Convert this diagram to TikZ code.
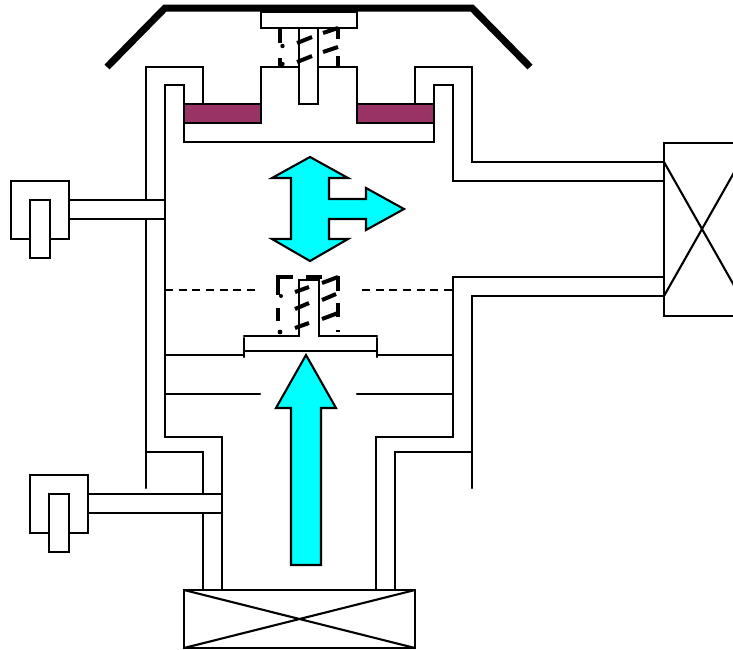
\documentclass[tikz,border=0pt]{standalone}
\definecolor{plum}{RGB}{153,51,102}
\definecolor{flowcyan}{RGB}{0,255,255}
\tikzset{
  wall/.style={line width=1.05pt,black,line cap=round,line join=miter},
  heavy/.style={line width=3.5pt,black,line cap=butt,line join=miter},
  coil/.style={line width=2pt,black},
  flow/.style={line width=1.05pt,black,fill=flowcyan,line join=miter},
  seal/.style={line width=1.05pt,black,fill=plum},
  box/.style={line width=1.05pt,black,fill=white},
  levelline/.style={line width=1pt,black,dash pattern=on 4pt off 2.83pt}
}
\begin{document}
\begin{tikzpicture}[x=0.5pt,y=-0.5pt]
\useasboundingbox (0,0) rectangle (733,649);
\begin{scope}
\clip (0,0) rectangle (733,649);
% top
\draw[heavy] (107,67) -- (165,8) -- (472,8) -- (530,67);
\draw[box] (261,12) rectangle (357,28);
% chamber
\draw[wall] (146,488) -- (146,219);
\draw[wall] (146,200) -- (146,67) -- (203,67) -- (203,104);
\draw[wall] (165,437) -- (165,85) -- (184,85) -- (184,142) -- (434,142) -- (434,85) -- (453,85) -- (453,181) -- (664,181);
\draw[wall] (415,104) -- (415,67) -- (472,67) -- (472,162) -- (664,162);
\draw[wall] (261,123) -- (261,67) -- (357,67) -- (357,123);
\draw[seal] (184,104) rectangle (261,123);
\draw[seal] (357,104) rectangle (434,123);
\draw[box] (299,28) rectangle (318,104);
% top spring
\draw[coil] (280,28) -- (280,43) (280,58) -- (280,66);
\draw[coil] (338,28) -- (338,39) (338,56) -- (338,66);
\fill (282.5,46) circle (1.1pt) (282.5,64) circle (1.1pt);
\draw[coil] (323,33) -- (338,28) (323,52) -- (338,47);
\draw[coil] (297,43) -- (312,37) (297,62) -- (312,56);
% lower walls
\draw[wall] (165,437) -- (222,437) -- (222,590);
\draw[wall] (146,452) -- (203,452) -- (203,494);
\draw[wall] (203,513) -- (203,590);
\draw[wall] (664,277) -- (453,277) -- (453,437) -- (376,437) -- (376,590);
\draw[wall] (664,296) -- (472,296) -- (472,488);
\draw[wall] (472,452) -- (395,452) -- (395,590);
% upper gauge
\draw[wall] (69,200) -- (165,200) (69,219) -- (165,219);
\draw[box] (11,181) rectangle (69,239);
\draw[box] (30,200) rectangle (50,258);
% lower gauge
\draw[wall] (88,494) -- (222,494) (88,513) -- (222,513);
\draw[box] (30,475) rectangle (88,533);
\draw[box] (49,494) rectangle (69,552);
% pumps
\draw[box] (184,590) rectangle (415,648);
\draw[wall] (184,590) -- (415,648) (184,648) -- (415,590);
\draw[box] (664,143) rectangle (760,316);
\draw[wall] (664,162) -- (740,296) (664,296) -- (740,162);
% dashed level
\draw[levelline] (165,290) -- (255,290);
\draw[levelline] (362,290) -- (453,290);
% lower valve
\draw[wall] (165,355) -- (243,355) (377,355) -- (453,355);
\draw[wall] (165,394) -- (260,394) (357,394) -- (453,394);
\draw[wall] (244,336) -- (299,336) -- (299,280) -- (319,280) -- (319,336) -- (377,336);
\draw[wall] (244,338) -- (244,357) (377,338) -- (377,357);
\draw[wall] (244,351) -- (377,351);
% lower spring
\draw[coil] (278,295) -- (278,277) -- (293,277) (306,277) -- (322,277);
\draw[coil] (278,308) -- (278,321);
\draw[coil] (338,276) -- (338,291) (338,303) -- (338,317);
\draw[coil] (322,283) -- (338,277) (322,300) -- (336,294) (322,319) -- (338,313);
\draw[coil] (295,292) -- (309,287) (295,309) -- (309,303) (295,328) -- (309,323);
\fill (281,296) circle (1pt) (280,332) circle (1.2pt);
\draw[line width=0.8pt] (336,331) -- (340,331);
% arrows
\draw[flow] (306,355) -- (336,408) -- (321,408) -- (321,565) -- (291,565) -- (291,408) -- (276,408) -- cycle;
\draw[flow] (310,157) -- (348,178) -- (329,178) -- (329,199) -- (366,199) -- (366,188) -- (404,209) -- (366,230) -- (366,219) -- (329,219) -- (329,239) -- (348,239) -- (310,261) -- (272,239) -- (291,239) -- (291,178) -- (272,178) -- cycle;
\end{scope}
\end{tikzpicture}
\end{document}
